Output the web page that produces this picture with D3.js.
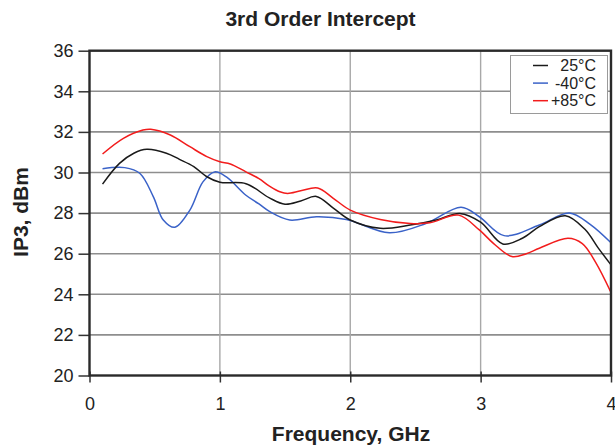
<!DOCTYPE html>
<html>
<head>
<meta charset="utf-8">
<script src="https://cdn.jsdelivr.net/npm/d3@7"></script>
<style>
  html, body { margin: 0; padding: 0; background: #fff; }
  svg { display: block; font-family: "Liberation Sans", Arial, Helvetica, sans-serif; }
</style>
</head>
<body>
<svg id="chart" width="615" height="448"></svg>
<script>
// ---- data ----
const chartTitle = "3rd Order Intercept";
const xLabel = "Frequency, GHz";
const yLabel = "IP3, dBm";
const xTicks = [0, 1, 2, 3, 4];
const yTicks = [20, 22, 24, 26, 28, 30, 32, 34, 36];
const seriesNames = ["25°C", "-40°C", "+85°C"];

const freq25 = [0.1, 0.23, 0.34, 0.44, 0.59, 0.69, 0.8, 0.9, 1.0, 1.2, 1.38, 1.5, 1.62, 1.74, 1.87, 2.0, 2.23, 2.46, 2.66, 2.84, 3.0, 3.17, 3.32, 3.45, 3.65, 3.8, 3.9, 4.0];
const ip3_25 = [29.43, 30.45, 30.95, 31.14, 30.95, 30.65, 30.29, 29.79, 29.52, 29.45, 28.75, 28.44, 28.6, 28.82, 28.25, 27.66, 27.25, 27.41, 27.66, 27.98, 27.55, 26.48, 26.76, 27.33, 27.87, 27.2, 26.3, 25.45];

const freqM40 = [0.1, 0.27, 0.387, 0.49, 0.566, 0.655, 0.77, 0.87, 0.96, 1.05, 1.2, 1.3, 1.383, 1.536, 1.74, 1.97, 2.3, 2.58, 2.85, 2.99, 3.18, 3.45, 3.68, 3.84, 4.0];
const ip3_M40 = [30.19, 30.24, 29.95, 28.8, 27.66, 27.3, 28.15, 29.54, 30.03, 29.78, 28.88, 28.45, 28.07, 27.66, 27.82, 27.69, 27.03, 27.49, 28.29, 27.82, 26.89, 27.41, 28.01, 27.45, 26.54];

const freqP85 = [0.1, 0.26, 0.41, 0.47, 0.62, 0.77, 0.9, 1.0, 1.08, 1.2, 1.3, 1.38, 1.46, 1.52, 1.62, 1.75, 1.87, 2.0, 2.23, 2.46, 2.61, 2.83, 2.99, 3.1, 3.24, 3.35, 3.45, 3.67, 3.78, 3.88, 4.0];
const ip3_P85 = [30.91, 31.68, 32.09, 32.13, 31.85, 31.27, 30.78, 30.53, 30.42, 30.03, 29.7, 29.33, 29.05, 28.97, 29.1, 29.24, 28.73, 28.15, 27.69, 27.49, 27.52, 27.9, 27.17, 26.5, 25.86, 26.0, 26.27, 26.76, 26.5, 25.6, 24.09];

// ---- layout ----
const W = 615, H = 448;
const plot = { left: 89.5, right: 611, top: 50.7, bottom: 375.5 };
const colors = ["#1a1a1a", "#3a62c8", "#f21c1c"];
const textColor = "#222";

const svg = d3.select("#chart");
const x = d3.scaleLinear().domain([0, 4]).range([plot.left, plot.right]);
const y = d3.scaleLinear().domain([20, 36]).range([plot.bottom, plot.top]);

// horizontal gridlines
svg.append("g").selectAll("line").data(yTicks.slice(1, -1)).join("line")
  .attr("x1", plot.left).attr("x2", plot.right)
  .attr("y1", d => y(d)).attr("y2", d => y(d))
  .attr("stroke", "#8e8e8e").attr("stroke-width", 1.6);
// vertical gridlines
svg.append("g").selectAll("line").data(xTicks.slice(1, -1)).join("line")
  .attr("y1", plot.top).attr("y2", plot.bottom)
  .attr("x1", d => x(d)).attr("x2", d => x(d))
  .attr("stroke", "#a8a8a8").attr("stroke-width", 1.4);

// series
const series = [
  { name: seriesNames[0], f: freq25, v: ip3_25, color: colors[0] },
  { name: seriesNames[1], f: freqM40, v: ip3_M40, color: colors[1] },
  { name: seriesNames[2], f: freqP85, v: ip3_P85, color: colors[2] }
];
const line = d3.line().x(d => x(d[0])).y(d => y(d[1])).curve(d3.curveCatmullRom.alpha(0.5));
const drawOrder = [1, 0, 2];
drawOrder.forEach(i => {
  const s = series[i];
  svg.append("path")
    .datum(s.f.map((f, k) => [f, s.v[k]]))
    .attr("d", line)
    .attr("fill", "none")
    .attr("stroke", s.color)
    .attr("stroke-width", 1.5)
    .attr("stroke-linejoin", "round");
});

// axes
const yAxis = svg.append("g").attr("transform", `translate(${plot.left},0)`)
  .call(d3.axisLeft(y).tickValues(yTicks).tickSize(11).tickPadding(5).tickFormat(d3.format("d")));
const xAxis = svg.append("g").attr("transform", `translate(0,${plot.bottom})`)
  .call(d3.axisBottom(x).tickValues(xTicks).tickSize(7).tickPadding(15).tickFormat(d3.format("d")));
[yAxis, xAxis].forEach(a => {
  a.select(".domain").remove();
  a.selectAll(".tick line").attr("stroke", "#333").attr("stroke-width", 1.5);
  a.selectAll(".tick text").attr("fill", textColor).style("font-size", "18px").style("font-family", "Liberation Sans, Arial, sans-serif");
});
xAxis.selectAll(".tick line").attr("y1", -4);

// frame
svg.append("rect")
  .attr("x", plot.left).attr("y", plot.top)
  .attr("width", plot.right - plot.left).attr("height", plot.bottom - plot.top)
  .attr("fill", "none").attr("stroke", "#2a2a2a").attr("stroke-width", 2.4);

// titles
svg.append("text").attr("x", 320.5).attr("y", 25.5).attr("text-anchor", "middle")
  .attr("fill", textColor).style("font-size", "21px").style("font-weight", "bold").text(chartTitle);
svg.append("text").attr("x", 351).attr("y", 441).attr("text-anchor", "middle")
  .attr("fill", textColor).style("font-size", "21px").style("font-weight", "bold").text(xLabel);
svg.append("text").attr("transform", "translate(28,212) rotate(-90)").attr("text-anchor", "middle")
  .attr("fill", textColor).style("font-size", "21px").style("font-weight", "bold").text(yLabel);

// legend
const lg = svg.append("g");
lg.append("rect").attr("x", 510.5).attr("y", 55.5).attr("width", 97).attr("height", 58)
  .attr("fill", "#fff").attr("stroke", "#9a9a9a").attr("stroke-width", 1);
series.forEach((s, i) => {
  const ly = 65.5 + i * 17.6;
  lg.append("line").attr("x1", 533).attr("x2", 548).attr("y1", ly).attr("y2", ly)
    .attr("stroke", s.color).attr("stroke-width", 1.5);
  lg.append("text").attr("x", 596).attr("y", ly + 5.6).attr("text-anchor", "end")
    .attr("fill", textColor).style("font-size", "16px").text(s.name);
});
</script>
</body>
</html>
